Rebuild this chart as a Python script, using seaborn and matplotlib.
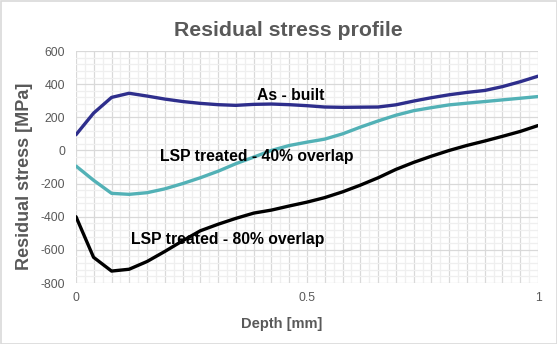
import numpy as np
import pandas as pd
import matplotlib
matplotlib.use("Agg")
import matplotlib.pyplot as plt
import seaborn as sns
from matplotlib.patches import Rectangle
from matplotlib.ticker import MultipleLocator, FixedLocator

depth = [0.0, 0.038, 0.077, 0.115, 0.154, 0.192, 0.231, 0.269, 0.308, 0.346,
         0.385, 0.423, 0.462, 0.5, 0.538, 0.577, 0.615, 0.654, 0.692, 0.731,
         0.769, 0.808, 0.846, 0.885, 0.923, 0.962, 1.0]
as_built = [95, 225, 320, 345, 328, 310, 295, 284, 276, 272, 278, 280, 276, 270,
            262, 260, 261, 262, 275, 298, 318, 336, 350, 362, 385, 415, 448]
lsp_40 = [-94, -180, -259, -265, -255, -232, -200, -165, -125, -80, -40, 0, 30, 50,
          68, 100, 140, 178, 212, 240, 258, 275, 285, 295, 305, 315, 325]
lsp_80 = [-400, -645, -728, -717, -670, -610, -545, -485, -445, -410, -378, -360,
          -335, -312, -285, -250, -210, -165, -115, -72, -35, 0, 30, 57, 85, 115, 150]

series_names = ["As - built", "LSP treated - 40% overlap", "LSP treated - 80% overlap"]
series_colors = ["#2E2E8C", "#52B1B6", "#000000"]
label_pos = [(0.465, 334), (0.391, -34), (0.329, -540)]

title = "Residual stress profile"
xlabel = "Depth [mm]"
ylabel = "Residual stress [MPa]"
xticks = [0, 0.5, 1]
xticklabels = ["0", "0.5", "1"]
yticks = [600, 400, 200, 0, -200, -400, -600, -800]

df = pd.concat([
    pd.DataFrame({"depth": depth, "stress": vals, "series": name})
    for name, vals in zip(series_names, [as_built, lsp_40, lsp_80])
])

sns.set_theme(style="white")
plt.rcParams["font.family"] = ["Liberation Sans", "DejaVu Sans"]

fig = plt.figure(figsize=(5.57, 3.44), dpi=100)
ax = fig.add_axes([76/557, 1-283/344, (538-76)/557, (283-51)/344])

sns.lineplot(data=df, x="depth", y="stress", hue="series",
             palette=dict(zip(series_names, series_colors)),
             linewidth=2.4, legend=False, ax=ax, sort=False)

ax.set_xlim(0, 1)
ax.set_ylim(-800, 600)

# grid
ax.xaxis.set_major_locator(FixedLocator([k/26 for k in range(27)]))
ax.xaxis.set_minor_locator(FixedLocator([(k+0.5)/26 for k in range(26)]))
ax.yaxis.set_major_locator(FixedLocator(yticks))
ax.yaxis.set_minor_locator(MultipleLocator(40))
ax.grid(which="major", color="#D9D9D9", linewidth=0.9)
ax.grid(which="minor", color="#EFEFEF", linewidth=0.9)
ax.set_axisbelow(True)
ax.tick_params(which="both", length=0)
ax.set_xticklabels([])
ax.set_yticklabels([str(v) for v in yticks], color="#595959", fontsize=8.8)
ax.tick_params(axis="y", pad=8)
for xv, lab in zip(xticks, xticklabels):
    ax.text(xv, -0.065, lab, transform=ax.get_xaxis_transform(), ha="center", va="center",
            color="#595959", fontsize=8.8)
for s in ax.spines.values():
    s.set_visible(False)

for name, (lx, ly) in zip(series_names, label_pos):
    ax.text(lx, ly, name, ha="center", va="center", fontsize=11.3, fontweight="bold", color="black")

ax.set_xlabel("")
ax.set_ylabel("")
fig.text(282/557, 1-324/344, xlabel, ha="center", va="center", fontsize=10.5,
         fontweight="bold", color="#595959")
fig.text(25/557, 1-176/344, ylabel, ha="center", va="center", rotation=90,
         fontsize=13, fontweight="bold", color="#595959")
fig.text(288/557, 1-30/344, title, ha="center", va="center", fontsize=15.3,
         fontweight="bold", color="#595959")

fig.patches.append(Rectangle((0.5/557, 0.5/344), 1-1/557, 1-1/344, transform=fig.transFigure,
                             fill=False, edgecolor="#D9D9D9", linewidth=1.2))

fig.savefig("out.png", dpi=100)
